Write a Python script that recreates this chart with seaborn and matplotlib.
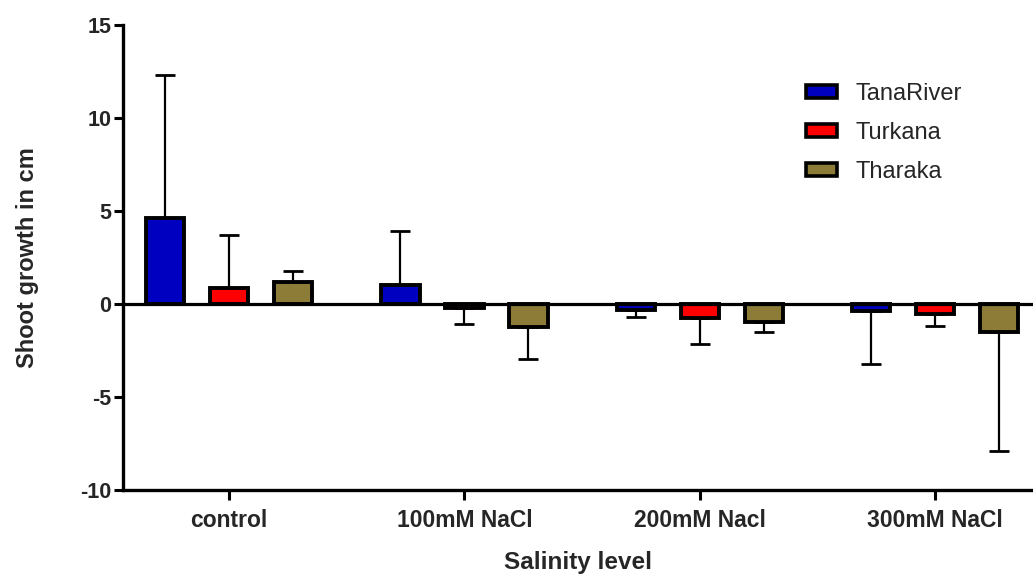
import matplotlib
matplotlib.use("Agg")
import matplotlib.pyplot as plt
from matplotlib.patches import Patch
import seaborn as sns
import pandas as pd

categories = ["control", "100mM NaCl", "200mM Nacl", "300mM NaCl"]
series = ["TanaRiver", "Turkana", "Tharaka"]
tana_mean = [4.62, 1.02, -0.30, -0.36]
tana_err = [7.70, 2.90, 0.40, 2.85]
turkana_mean = [0.88, -0.20, -0.73, -0.54]
turkana_err = [2.82, 0.88, 1.42, 0.66]
tharaka_mean = [1.18, -1.24, -0.95, -1.52]
tharaka_err = [0.60, 1.71, 0.55, 6.40]
colors = ["#0000C0", "#FF0000", "#8C7C38"]
y_ticks = [-10, -5, 0, 5, 10, 15]

means = [tana_mean, turkana_mean, tharaka_mean]
errs = [tana_err, turkana_err, tharaka_err]

rows = []
for s, m in zip(series, means):
    for c, v in zip(categories, m):
        rows.append({"Salinity level": c, "series": s, "value": v})
df = pd.DataFrame(rows)

sns.set_style("ticks")
plt.rcParams["font.family"] = ["Liberation Sans", "DejaVu Sans"]

fig = plt.figure(figsize=(10.33, 5.74), dpi=100)
ax = fig.add_axes([0.1188, 0.1463, 1 - 0.1188, 0.9565 - 0.1463])

sns.barplot(data=df, x="Salinity level", y="value", hue="series",
            hue_order=series, order=categories, palette=colors,
            width=0.816, gap=0.4, errorbar=None, edgecolor="black",
            linewidth=2.8, saturation=1, ax=ax, legend=False, zorder=3)

for cont, err, m in zip(ax.containers, errs, means):
    for bar, e, v in zip(cont, err, m):
        xc = bar.get_x() + bar.get_width() / 2
        if v >= 0:
            yerr = [[0], [e]]
        else:
            yerr = [[e], [0]]
        ax.errorbar([xc], [v], yerr=yerr, fmt="none", ecolor="black",
                    elinewidth=1.6, capsize=7.4, capthick=2.0, zorder=2)

ax.axhline(0, color="black", lw=2.3, zorder=4)

ax.set_ylim(-10, 15)
ax.set_xlim(-0.452, 3.416)
ax.set_yticks(y_ticks)
ax.set_yticklabels([str(t) for t in y_ticks])

for side in ["top", "right"]:
    ax.spines[side].set_visible(False)
for side in ["left", "bottom"]:
    ax.spines[side].set_linewidth(2.4)
    ax.spines[side].set_color("black")

ax.tick_params(axis="y", length=6.5, width=2.2, pad=1.5, labelsize=15.5, color="black")
ax.tick_params(axis="x", length=7.5, width=2.2, pad=6, labelsize=16.5, color="black")
for lab in ax.get_xticklabels() + ax.get_yticklabels():
    lab.set_fontweight("bold")

ax.set_xlabel("Salinity level", fontsize=17.5, fontweight="bold", labelpad=14)
ax.set_ylabel("Shoot growth in cm", fontsize=17, fontweight="bold", labelpad=30)

handles = [Patch(facecolor=c, edgecolor="black", linewidth=2.6) for c in colors]
ax.legend(handles, series, loc="upper left", bbox_to_anchor=(806 / 1033, 1 - 83 / 574),
          bbox_transform=fig.transFigure, frameon=False, fontsize=17,
          handlelength=1.3, handleheight=0.5, handletextpad=0.8,
          labelspacing=0.72, borderpad=0, borderaxespad=0)

fig.savefig("out.png", dpi=100)
